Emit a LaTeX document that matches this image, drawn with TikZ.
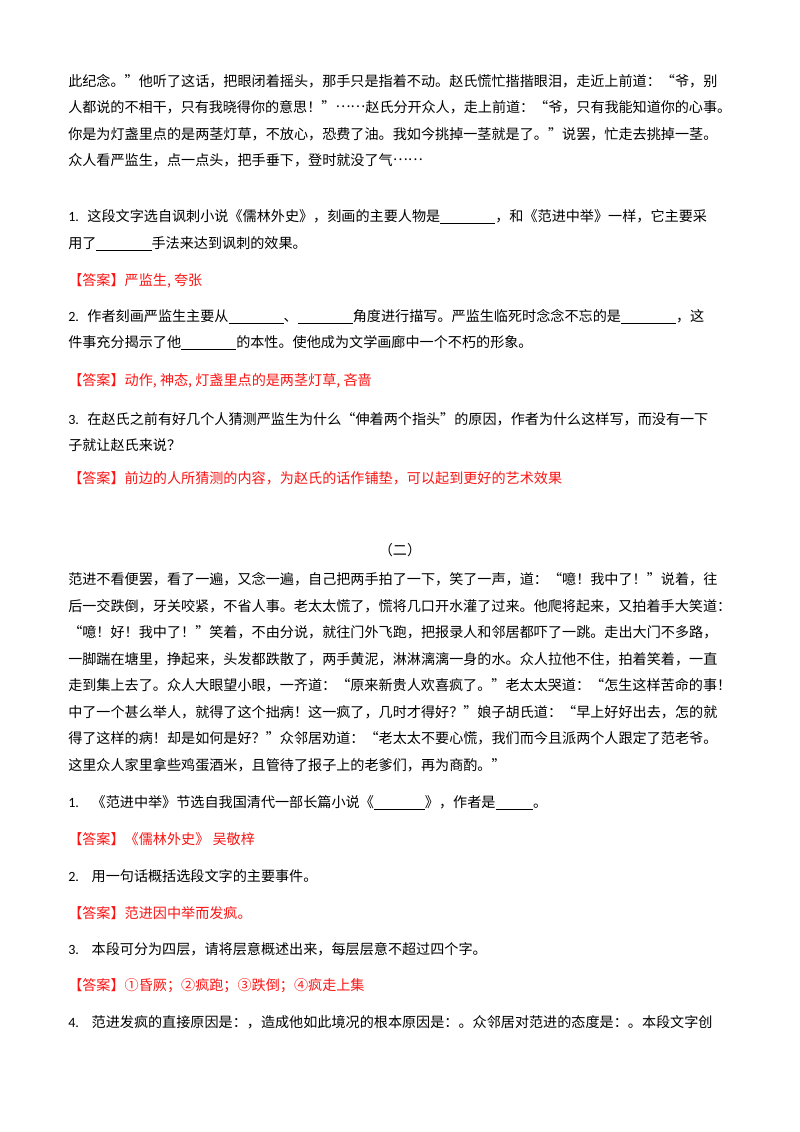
\documentclass[tikz,border=0pt]{standalone}
\usepackage{fontspec}
\setmainfont{Noto Sans CJK SC}
\newfontfamily\lat{Carlito}
\XeTeXlinebreaklocale "zh"
\XeTeXlinebreakskip=0pt plus 3pt minus 0.6pt
\setlength\parindent{0pt}
\definecolor{ansred}{RGB}{250,20,20}
\newcommand\blank[1]{\rule[-2.2pt]{#1pt}{0.8pt}}
\newcommand\jfill{\noindent\parfillskip=0pt\relax}
\newcommand\cnell{\raisebox{0.3em}{……}}
\begin{document}
\begin{tikzpicture}[x=0.7441pt,y=-0.7441pt,
 txt/.style={anchor=base west,inner sep=0pt,font=\fontsize{10.5pt}{13pt}\selectfont},
 full/.style={txt,text width=493.3pt,align=justify},
 ans/.style={txt,text=ansred}]
\useasboundingbox (0,0) rectangle (800,1132);
% paragraph one
\node[full] (p1) at (68,86) {\jfill 此纪念。”他听了这话，把眼闭着摇头，那手只是指着不动。赵氏慌忙揩揩眼泪，走近上前道：“爷，别};
\node[full] (p2) at (68,112) {\jfill 人都说的不相干，只有我晓得你的意思！”\cnell 赵氏分开众人，走上前道：“爷，只有我能知道你的心事。};
\node[full] (p3) at (68,139) {\jfill 你是为灯盏里点的是两茎灯草，不放心，恐费了油。我如今挑掉一茎就是了。”说罢，忙走去挑掉一茎。};
\node[txt] (p4) at (68,165) {众人看严监生，点一点头，把手垂下，登时就没了气\cnell};
% question 1
\node[full] (q1a) at (68,221) {\jfill{\lat 1.}\hspace{0.6em}这段文字选自讽刺小说《儒林外史》，刻画的主要人物是\blank{41}，和《范进中举》一样，它主要采};
\node[txt] (q1b) at (68,248) {用了\blank{41}手法来达到讽刺的效果。};
\node[ans] (a1) at (68,285) {【答案】严监生, 夸张};
% question 2
\node[full] (q2a) at (68,321) {\jfill{\lat 2.}\hspace{0.6em}作者刻画严监生主要从\blank{41}、\blank{41}角度进行描写。严监生临死时念念不忘的是\blank{41}，这};
\node[txt] (q2b) at (68,347) {件事充分揭示了他\blank{41}的本性。使他成为文学画廊中一个不朽的形象。};
\node[ans] (a2) at (68,385) {【答案】动作, 神态, 灯盏里点的是两茎灯草, 吝啬};
% question 3
\node[full] (q3a) at (68,424) {\jfill{\lat 3.}\hspace{0.6em}在赵氏之前有好几个人猜测严监生为什么“伸着两个指头”的原因，作者为什么这样写，而没有一下};
\node[txt] (q3b) at (68,450) {子就让赵氏来说？};
\node[ans] (a3) at (68,483) {【答案】前边的人所猜测的内容，为赵氏的话作铺垫，可以起到更好的艺术效果};
% part two
\node[txt,anchor=base] (t2) at (400,555) {（二）};
\node[full] (r1) at (68,584) {\jfill 范进不看便罢，看了一遍，又念一遍，自己把两手拍了一下，笑了一声，道：“噫！我中了！”说着，往};
\node[full] (r2) at (68,611) {\jfill 后一交跌倒，牙关咬紧，不省人事。老太太慌了，慌将几口开水灌了过来。他爬将起来，又拍着手大笑道：};
\node[full] (r3) at (68,637) {\jfill “噫！好！我中了！”笑着，不由分说，就往门外飞跑，把报录人和邻居都吓了一跳。走出大门不多路，};
\node[full] (r4) at (68,664) {\jfill 一脚踹在塘里，挣起来，头发都跌散了，两手黄泥，淋淋漓漓一身的水。众人拉他不住，拍着笑着，一直};
\node[full] (r5) at (68,690) {\jfill 走到集上去了。众人大眼望小眼，一齐道：“原来新贵人欢喜疯了。”老太太哭道：“怎生这样苦命的事！};
\node[full] (r6) at (68,717) {\jfill 中了一个甚么举人，就得了这个拙病！这一疯了，几时才得好？”娘子胡氏道：“早上好好出去，怎的就};
\node[full] (r7) at (68,743) {\jfill 得了这样的病！却是如何是好？”众邻居劝道：“老太太不要心慌，我们而今且派两个人跟定了范老爷。};
\node[txt] (r8) at (68,770) {这里众人家里拿些鸡蛋酒米，且管待了报子上的老爹们，再为商酌。”};
% questions part two
\node[txt] (s1) at (68,807) {{\lat 1.}\hspace{0.9em}《范进中举》节选自我国清代一部长篇小说《\blank{38}》，作者是\blank{28}。};
\node[ans] (b1) at (68,844) {【答案】《儒林外史》 吴敬梓};
\node[txt] (s2) at (68,881) {{\lat 2.}\hspace{0.9em}用一句话概括选段文字的主要事件。};
\node[ans] (b2) at (68,918) {【答案】范进因中举而发疯。};
\node[txt] (s3) at (68,954) {{\lat 3.}\hspace{0.9em}本段可分为四层，请将层意概述出来，每层层意不超过四个字。};
\node[ans] (b3) at (68,990) {【答案】①昏厥；②疯跑；③跌倒；④疯走上集};
\node[full] (s4) at (68,1027) {\jfill{\lat 4.}\hspace{0.9em}范进发疯的直接原因是：，造成他如此境况的根本原因是：。众邻居对范进的态度是：。本段文字创};
\end{tikzpicture}
\end{document}
